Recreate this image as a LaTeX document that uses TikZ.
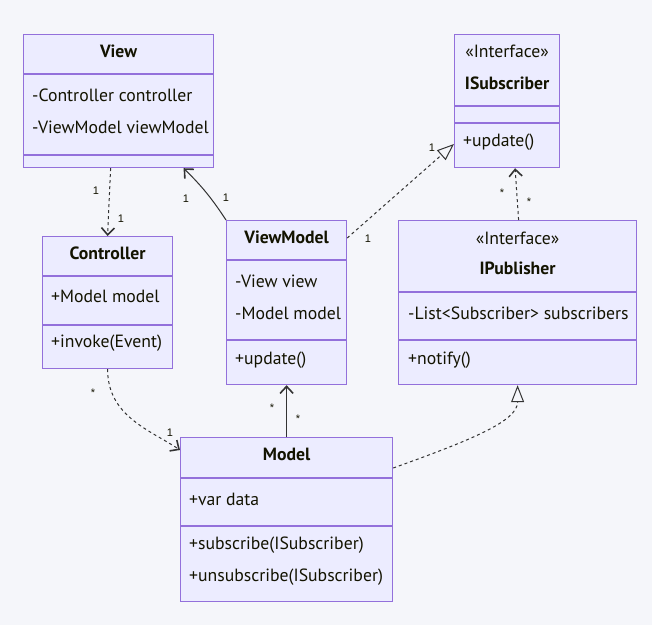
\documentclass[tikz,border=0pt]{standalone}
\usepackage{fontspec}
\setmainfont{PT Sans}
\setsansfont{Liberation Sans}
\usetikzlibrary{arrows.meta}
\definecolor{bg}{HTML}{F5F6FA}
\definecolor{boxfill}{HTML}{ECECFF}
\definecolor{boxline}{HTML}{9370DB}
\definecolor{ink}{HTML}{131300}
\definecolor{edge}{HTML}{333333}
\tikzset{
  classbox/.style={draw=boxline, fill=boxfill, line width=1.2pt, inner sep=0pt, anchor=north west},
  sep/.style={draw=boxline, line width=1.2pt},
  txt/.style={text=ink, inner sep=0pt, font=\fontsize{17.7pt}{21pt}\selectfont},
  title/.style={txt, font=\fontsize{17.7pt}{21pt}\selectfont\bfseries, anchor=mid},
  stereo/.style={txt, anchor=mid},
  member/.style={txt, anchor=mid west},
  mult/.style={text=ink, inner sep=0pt, font=\sffamily\fontsize{11pt}{13pt}\selectfont},
  rel/.style={draw=edge, line width=1pt},
  dep/.style={rel, dash pattern=on 3pt off 3pt},
  vee/.style={-{Straight Barb[length=7pt,width=13pt,line width=1.6pt]}},
  realize/.style={-{Triangle[open,length=17pt,width=13pt,line width=1pt]}}
}
\begin{document}
\begin{tikzpicture}[x=1pt,y=-1pt]
  \useasboundingbox[fill=bg] (0,0) rectangle (652,625);

  % ---- View ----
  \node[classbox, minimum width=190pt, minimum height=133pt] (view) at (23,34) {};
  \draw[sep] ([yshift=-40pt]view.north west) -- ([yshift=-40pt]view.north east);
  \draw[sep] ([yshift=-121pt]view.north west) -- ([yshift=-121pt]view.north east);
  \node[title] (view-t) at ([yshift=-21pt]view.north) {View};
  \node[member] (view-a1) at ([xshift=9pt,yshift=-65pt]view.north west) {-Controller controller};
  \node[member] (view-a2) at ([xshift=9pt,yshift=-97pt]view.north west) {-ViewModel viewModel};

  % ---- ISubscriber ----
  \node[classbox, minimum width=105pt, minimum height=133pt] (isub) at (454,34) {};
  \draw[sep] ([yshift=-72pt]isub.north west) -- ([yshift=-72pt]isub.north east);
  \draw[sep] ([yshift=-89pt]isub.north west) -- ([yshift=-89pt]isub.north east);
  \node[stereo] (isub-s) at ([yshift=-21pt]isub.north) {«Interface»};
  \node[title] (isub-t) at ([yshift=-53pt]isub.north) {ISubscriber};
  \node[member] (isub-m1) at ([xshift=9pt,yshift=-110pt]isub.north west) {+update()};

  % ---- Controller ----
  \node[classbox, minimum width=130pt, minimum height=132pt] (ctrl) at (42,236) {};
  \draw[sep] ([yshift=-40pt]ctrl.north west) -- ([yshift=-40pt]ctrl.north east);
  \draw[sep] ([yshift=-89pt]ctrl.north west) -- ([yshift=-89pt]ctrl.north east);
  \node[title] (ctrl-t) at ([yshift=-21pt]ctrl.north) {Controller};
  \node[member] (ctrl-a1) at ([xshift=9pt,yshift=-64pt]ctrl.north west) {+Model model};
  \node[member] (ctrl-m1) at ([xshift=9pt,yshift=-109pt]ctrl.north west) {+invoke(Event)};

  % ---- ViewModel ----
  \node[classbox, minimum width=120pt, minimum height=164pt] (vm) at (226,220) {};
  \draw[sep] ([yshift=-40pt]vm.north west) -- ([yshift=-40pt]vm.north east);
  \draw[sep] ([yshift=-120pt]vm.north west) -- ([yshift=-120pt]vm.north east);
  \node[title] (vm-t) at ([yshift=-21pt]vm.north) {ViewModel};
  \node[member] (vm-a1) at ([xshift=9pt,yshift=-65pt]vm.north west) {-View view};
  \node[member] (vm-a2) at ([xshift=9pt,yshift=-97pt]vm.north west) {-Model model};
  \node[member] (vm-m1) at ([xshift=9pt,yshift=-142pt]vm.north west) {+update()};

  % ---- IPublisher ----
  \node[classbox, minimum width=238pt, minimum height=164pt] (ipub) at (398,220) {};
  \draw[sep] ([yshift=-72pt]ipub.north west) -- ([yshift=-72pt]ipub.north east);
  \draw[sep] ([yshift=-120pt]ipub.north west) -- ([yshift=-120pt]ipub.north east);
  \node[stereo] (ipub-s) at ([yshift=-22pt]ipub.north) {«Interface»};
  \node[title] (ipub-t) at ([yshift=-52pt]ipub.north) {IPublisher};
  \node[member] (ipub-a1) at ([xshift=10pt,yshift=-97pt]ipub.north west) {-List<Subscriber> subscribers};
  \node[member] (ipub-m1) at ([xshift=10pt,yshift=-142pt]ipub.north west) {+notify()};

  % ---- Model ----
  \node[classbox, minimum width=212pt, minimum height=164pt] (model) at (180,437) {};
  \draw[sep] ([yshift=-41pt]model.north west) -- ([yshift=-41pt]model.north east);
  \draw[sep] ([yshift=-89pt]model.north west) -- ([yshift=-89pt]model.north east);
  \node[title] (model-t) at ([yshift=-21pt]model.north) {Model};
  \node[member] (model-a1) at ([xshift=9pt,yshift=-66pt]model.north west) {+var data};
  \node[member] (model-m1) at ([xshift=9pt,yshift=-110pt]model.north west) {+subscribe(ISubscriber)};
  \node[member] (model-m2) at ([xshift=9pt,yshift=-142pt]model.north west) {+unsubscribe(ISubscriber)};

  % ---- relations ----
  \draw[dep, vee] ([xshift=-8pt]view.south) -- (ctrl.north);
  \draw[rel, vee] (vm.north west) to[bend right=6] ([xshift=65pt]view.south);
  \draw[dep, realize] ([yshift=-18pt]vm.north east) -- ([yshift=-110pt]isub.north west);
  \draw[dep, vee] ([xshift=1pt]ipub.north) -- ([xshift=8pt]isub.south);
  \draw[dep, vee] (ctrl.south) .. controls +(0,47) and +(-30,-20) .. ([yshift=-13pt]model.north west);
  \draw[rel, vee] (model.north) -- (vm.south);
  \draw[dep, realize] ([yshift=-31pt]model.north east) .. controls +(78,-28) and +(0,36) .. (ipub.south);

  % ---- multiplicities ----
  \node[mult] (m1) at (96,191) {1};
  \node[mult] (m2) at (121,219) {1};
  \node[mult] (m3) at (186,199) {1};
  \node[mult] (m4) at (226,198) {1};
  \node[mult] (m5) at (432,148) {1};
  \node[mult] (m6) at (368,239) {1};
  \node[mult] (m7) at (502,193) {*};
  \node[mult] (m8) at (529,202) {*};
  \node[mult] (m9) at (93,393) {*};
  \node[mult] (m10) at (170,433) {1};
  \node[mult] (m11) at (272,408) {*};
  \node[mult] (m12) at (298,419) {*};
\end{tikzpicture}
\end{document}
